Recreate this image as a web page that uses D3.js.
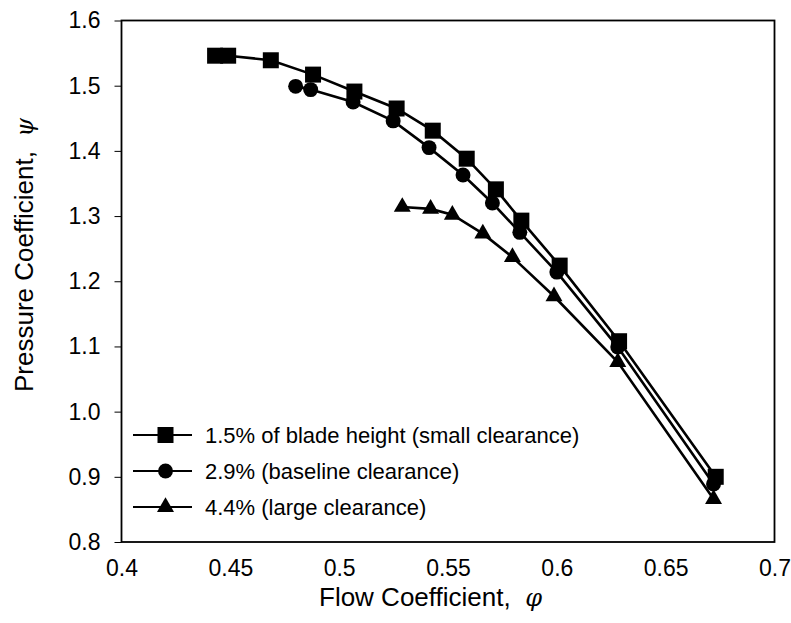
<!DOCTYPE html>
<html><head><meta charset="utf-8">
<script src="https://cdn.jsdelivr.net/npm/d3@7"></script>
<style>body{margin:0;background:#fff}svg{display:block}text{font-family:"Liberation Sans",Arial,sans-serif;fill:#000}</style>
</head><body>
<script>
const xTicks = [0.4,0.45,0.5,0.55,0.6,0.65,0.7];
const yTicks = [0.8,0.9,1.0,1.1,1.2,1.3,1.4,1.5,1.6];
const seriesNames = ["1.5% of blade height (small clearance)","2.9% (baseline clearance)","4.4% (large clearance)"];
const smallX = [0.443,0.449,0.4686,0.488,0.507,0.5264,0.543,0.5586,0.572,0.5837,0.6013,0.6286,0.673];
const smallY = [1.546,1.546,1.539,1.517,1.491,1.465,1.431,1.388,1.341,1.293,1.224,1.108,0.900];
const baseX = [0.480,0.4869,0.5064,0.5248,0.5413,0.5569,0.5704,0.583,0.600,0.628,0.672];
const baseY = [1.499,1.494,1.475,1.446,1.405,1.363,1.320,1.275,1.214,1.099,0.889];
const largeX = [0.529,0.542,0.552,0.566,0.5796,0.5987,0.628,0.672];
const largeY = [1.314,1.311,1.302,1.273,1.237,1.177,1.076,0.866];

const W=791,H=623;
const svg=d3.select("body").append("svg").attr("width",W).attr("height",H);
const x=d3.scaleLinear().domain([0.4,0.7]).range([121.5,774.5]);
const y=d3.scaleLinear().domain([0.8,1.6]).range([542,20.5]);

svg.append("rect").attr("x",x(0.4)).attr("y",y(1.6)).attr("width",x(0.7)-x(0.4)).attr("height",y(0.8)-y(1.6))
  .attr("fill","none").attr("stroke","#000").attr("stroke-width",1.8);

const ya=svg.append("g").attr("transform",`translate(${x(0.4)},0)`)
  .call(d3.axisLeft(y).tickValues(yTicks).tickFormat(d3.format(".1f")).tickSize(7).tickPadding(14));
ya.select(".domain").remove();
ya.selectAll("text").attr("font-size",23).style("font-family","Liberation Sans, Arial, sans-serif");
ya.selectAll("line").attr("stroke-width",1);

const xa=svg.append("g").attr("transform",`translate(0,${y(0.8)})`)
  .call(d3.axisBottom(x).tickValues(xTicks).tickFormat(d=>String(d)).tickSize(0).tickPadding(18));
xa.select(".domain").remove();
xa.selectAll("text").attr("font-size",23).style("font-family","Liberation Sans, Arial, sans-serif");

svg.append("text").attr("x",319).attr("y",606).attr("text-anchor","start").attr("font-size",26)
  .html('Flow Coefficient,&#160;&#160;<tspan font-style="italic" font-family="DejaVu Serif" font-size="24">φ</tspan>');
svg.append("text").attr("transform","translate(33,392) rotate(-90)").attr("text-anchor","start").attr("font-size",26)
  .html('Pressure Coefficient,&#160;&#160;<tspan font-style="italic" font-family="DejaVu Serif" font-size="24">ψ</tspan>');

const line=d3.line().x(d=>x(d[0])).y(d=>y(d[1]));
const sym={square:d3.symbolSquare,circle:d3.symbolCircle,triangle:d3.symbolTriangle};
const series=[
  {name:seriesNames[0],xs:smallX,ys:smallY,shape:"square",size:256},
  {name:seriesNames[1],xs:baseX,ys:baseY,shape:"circle",size:175},
  {name:seriesNames[2],xs:largeX,ys:largeY,shape:"triangle",size:125}
];
series.slice().reverse().forEach(s=>{
  const pts=s.xs.map((v,i)=>[v,s.ys[i]]);
  svg.append("path").datum(pts).attr("d",line).attr("fill","none").attr("stroke","#000").attr("stroke-width",2.6);
});
series.slice().reverse().forEach(s=>{
  const pts=s.xs.map((v,i)=>[v,s.ys[i]]);
  svg.append("g").selectAll("path").data(pts).join("path")
    .attr("transform",d=>`translate(${x(d[0])},${y(d[1])})`)
    .attr("d",d3.symbol().type(sym[s.shape]).size(s.size)).attr("fill","#000");
});

const lg=svg.append("g");
series.forEach((s,i)=>{
  const ly=435+i*36;
  lg.append("line").attr("x1",133).attr("x2",192).attr("y1",ly).attr("y2",ly).attr("stroke","#000").attr("stroke-width",2.2);
  lg.append("path").attr("transform",`translate(165.5,${ly})`).attr("d",d3.symbol().type(sym[s.shape]).size(s.size)).attr("fill","#000");
  lg.append("text").attr("x",205).attr("y",ly).attr("dy","0.35em").attr("font-size",22).text(s.name);
});
</script>
</body></html>
